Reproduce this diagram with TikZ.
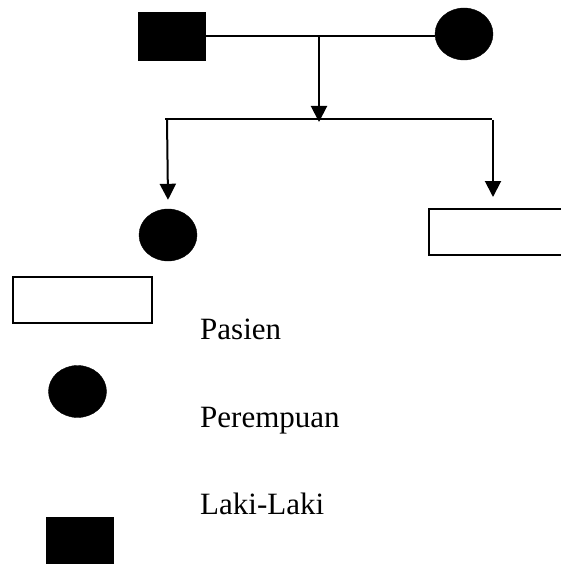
\documentclass[tikz,border=0pt]{standalone}
\usepackage{fontspec}
\setmainfont{Liberation Serif}
\usetikzlibrary{shapes.geometric,arrows.meta}
\begin{document}
\begin{tikzpicture}[x=1pt,y=-1pt,
  male/.style={rectangle,fill=black,draw=black,inner sep=0pt,minimum width=67pt,minimum height=48pt},
  female/.style={ellipse,fill=black,draw=black,inner sep=0pt,minimum width=58pt,minimum height=52pt},
  patient/.style={rectangle,draw=black,line width=2pt,inner sep=0pt,minimum width=139pt,minimum height=46pt},
  thinline/.style={line width=1.2pt},
  descent/.style={line width=2pt,-{Triangle[width=16pt,length=16pt]}},
  legendtext/.style={anchor=base west,inner sep=0pt,font=\fontsize{31}{36}\selectfont}]
\useasboundingbox (0,0) rectangle (561,564);
\clip (0,0) rectangle (561,564);

% parents
\node[male] (father) at (171.5,36) {};
\node[female] (mother) at (464,34) {};
\coordinate (join) at (319,36);
\coordinate (split) at (319,119);
\draw[thinline] (father.east) -- (father.east -| mother.west);
\draw[descent] (join) -- ([yshift=-3pt]split);

% sibship line
\coordinate (sibL) at (165,119);
\coordinate (sibR) at (492,119);
\draw[thinline] (sibL) -- (sibR);

% children
\node[female] (daughter) at (168,235) {};
\node[patient] (index) at (498,232) {};
\coordinate (dropL) at (167,120);
\coordinate (dropR) at (493,120);
\draw[descent] (dropL) -- ([yshift=9pt]daughter.north);
\draw[descent] (dropR) -- ([yshift=11pt]index.north -| dropR);

% legend
\node[patient] (keyPatient) at (82.5,299.5) {};
\node[female] (keyFemale) at (77.5,391.5) {};
\node[male] (keyMale) at (79.5,541) {};
\node[legendtext] (txtPatient) at (200,339) {Pasien};
\node[legendtext] (txtFemale) at (200,427) {Perempuan};
\node[legendtext] (txtMale) at (200,514) {Laki-Laki};
\end{tikzpicture}
\end{document}
